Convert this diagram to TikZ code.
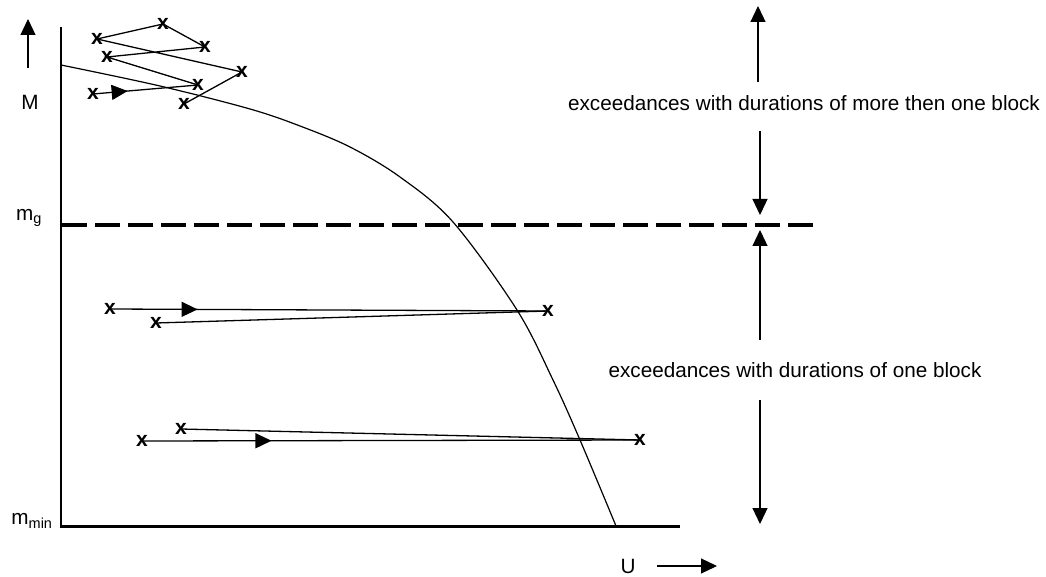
\documentclass[tikz,border=0pt]{standalone}
\usepackage{fontspec}
\setmainfont{Liberation Sans}
\usetikzlibrary{arrows.meta,decorations.markings}
\begin{document}
\begin{tikzpicture}[x=1pt,y=-1pt,
  lbl/.style={font=\fontsize{20.7}{24}\selectfont, inner sep=0pt},
  mk/.style={font=\fontsize{21}{24}\bfseries\selectfont, inner sep=0pt},
  zig/.style={line width=1.3pt},
  axisline/.style={line width=2.6pt},
  bigarrow/.style={line width=1.2pt, -{Triangle[length=16pt,width=15pt]}},
  midarrow/.style={postaction={decorate}, decoration={markings,
     mark=at position #1 with {\arrow{Triangle[length=16pt,width=15pt]}}}}
]
\useasboundingbox (0,0) rectangle (1046,577);

% axes
\coordinate (ytop) at (61,27);
\coordinate (orig) at (61,526.5);
\coordinate (xend) at (680,526.5);
\draw[axisline] (ytop) -- (orig) -- (xend);

% axis labels
\node[lbl] (M) at (30,102) {M};
\coordinate (Mlo) at (28,68);
\coordinate (Mhi) at (28,19);
\draw[bigarrow] (Mlo) -- (Mhi);
\node[lbl] (mg) at (29,218) {m\textsubscript{g}};
\node[lbl] (mmin) at (32,521) {m\textsubscript{min}};
\node[lbl] (U) at (628,566) {U};
\coordinate (Ua) at (657,566);
\coordinate (Ub) at (717,566);
\draw[bigarrow] (Ua) -- (Ub);

% dashed threshold
\coordinate (dl) at (62,225);
\coordinate (dr) at (815,225);
\draw[line width=4pt, dash pattern=on 25pt off 8pt] (dl) -- (dr);

% curve
\draw[line width=1.2pt] plot[smooth, tension=0.55] coordinates {(61,65) (160,86) (250,109) (300,126) (350,147) (400,177) (453,222) (517,310) (553,380) (580,440) (616,526)};

% top cluster
\node[mk] (A) at (97,39) {x};
\node[mk] (B) at (163,24) {x};
\node[mk] (C) at (205,47) {x};
\node[mk] (D) at (107,57) {x};
\node[mk] (E) at (242,72) {x};
\node[mk] (F) at (198,85) {x};
\node[mk] (G) at (93,94) {x};
\node[mk] (H) at (184,104) {x};
\draw[zig, midarrow=0.33] (G.center) -- (F.center);
\draw[zig] (F.center) -- (D.center) -- (C.center) -- (B.center) -- (A.center) -- (E.center) -- (H.center);

% middle band
\node[mk] (P1) at (110,309) {x};
\node[mk] (P2) at (548,311) {x};
\node[mk] (P3) at (156,323) {x};
\draw[zig, midarrow=0.2] (P1.center) -- (P2.center);
\draw[zig] (P2.center) -- (P3.center);

% lower band
\node[mk] (Q1) at (142,441) {x};
\node[mk] (Q2) at (640,440) {x};
\node[mk] (Q3) at (181,429) {x};
\draw[zig, midarrow=0.26] (Q1.center) -- (Q2.center);
\draw[zig] (Q2.center) -- (Q3.center);

% right side annotations
\node[lbl] (t1) at (804,103) {exceedances with durations of more then one block};
\node[lbl] (t2) at (795,370) {exceedances with durations of one block};
\coordinate (a1s) at (758,82);
\coordinate (a1e) at (758,6);
\coordinate (a2s) at (760,131);
\coordinate (a2e) at (760,215);
\coordinate (a3s) at (760,340);
\coordinate (a3e) at (760,230);
\coordinate (a4s) at (760,400);
\coordinate (a4e) at (760,524);
\draw[bigarrow] (a1s) -- (a1e);
\draw[bigarrow] (a2s) -- (a2e);
\draw[bigarrow] (a3s) -- (a3e);
\draw[bigarrow] (a4s) -- (a4e);
\end{tikzpicture}
\end{document}
